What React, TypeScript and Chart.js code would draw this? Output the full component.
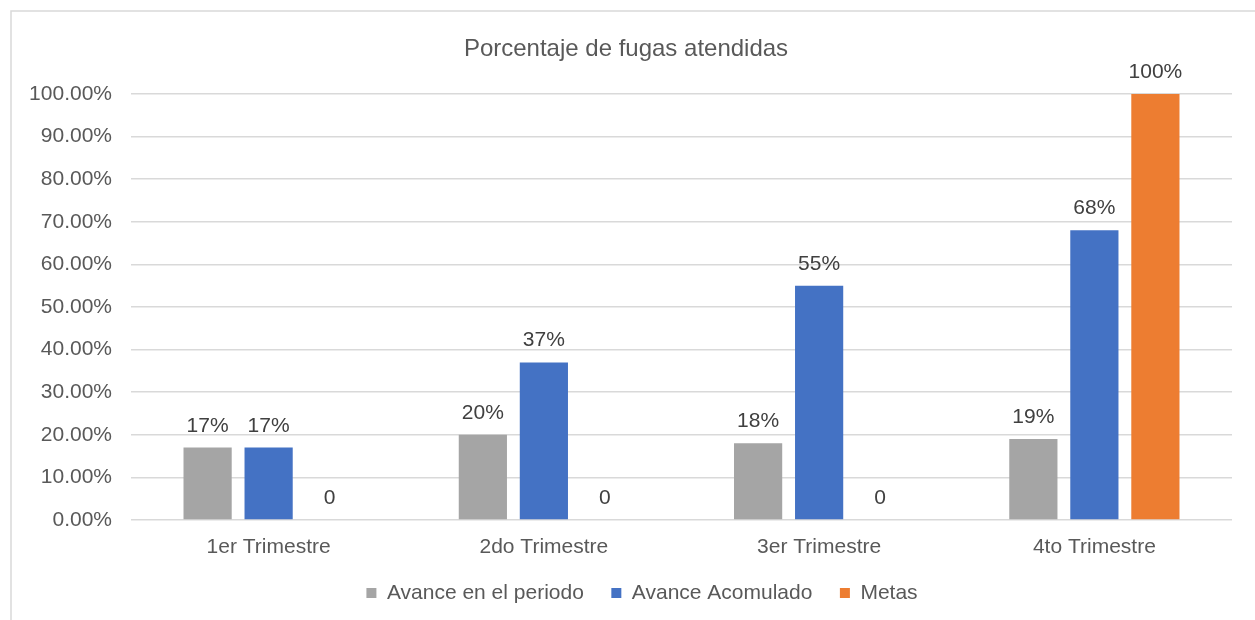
import React, { useEffect, useRef } from "react";
import { Chart, registerables } from "chart.js";

Chart.register(...registerables);

const categories = ["1er Trimestre", "2do Trimestre", "3er Trimestre", "4to Trimestre"];
const avancePeriodo = [0.17, 0.2, 0.18, 0.19];
const avanceAcumulado = [0.17, 0.37, 0.55, 0.68];
const metas = [0, 0, 0, 1];
const seriesNames = ["Avance en el periodo", "Avance Acomulado", "Metas"];
const chartTitle = "Porcentaje de fugas atendidas";

const FONT = "'Liberation Sans', Arial, sans-serif";

const frame = {
  id: "frame",
  beforeDraw(chart: any) {
    const ctx = chart.ctx;
    ctx.save();
    ctx.fillStyle = "#ffffff";
    ctx.fillRect(0, 0, chart.width, chart.height);
    ctx.strokeStyle = "#d9d9d9";
    ctx.lineWidth = 1.5;
    ctx.strokeRect(11, 11, 3000, 3000);
    ctx.restore();
  },
};

const shiftBoxes = {
  id: "shiftBoxes",
  afterLayout(chart: any) {
    if (chart.titleBlock) {
      chart.titleBlock.left += 10;
      chart.titleBlock.right += 10;
    }
    if (chart.legend) {
      chart.legend.left += 26;
      chart.legend.right += 26;
    }
  },
};

const dataLabels = {
  id: "dataLabels",
  afterDatasetsDraw(chart: any) {
    const ctx = chart.ctx;
    ctx.save();
    ctx.font = `21px ${FONT}`;
    ctx.fillStyle = "#404040";
    ctx.textAlign = "center";
    ctx.textBaseline = "alphabetic";
    chart.data.datasets.forEach((ds: any, i: number) => {
      const meta = chart.getDatasetMeta(i);
      meta.data.forEach((bar: any, j: number) => {
        const v = ds.data[j];
        const txt = v === 0 ? "0" : Math.round(v * 100) + "%";
        ctx.fillText(txt, bar.x, bar.y - 16);
      });
    });
    ctx.restore();
  },
};

export default function App() {
  const ref = useRef<HTMLCanvasElement>(null);
  useEffect(() => {
    if (!ref.current) return;
    const chart = new Chart(ref.current, {
      type: "bar",
      data: {
        labels: categories,
        datasets: [
          { label: seriesNames[0], data: avancePeriodo, backgroundColor: "#a5a5a5" },
          { label: seriesNames[1], data: avanceAcumulado, backgroundColor: "#4472c4" },
          { label: seriesNames[2], data: metas, backgroundColor: "#ed7d31" },
        ],
      },
      options: {
        animation: false,
        responsive: false,
        maintainAspectRatio: false,
        layout: { padding: { top: 10, right: 23, bottom: 6.5, left: 0 } },
        datasets: { bar: { categoryPercentage: 0.665, barPercentage: 0.79 } },
        plugins: {
          title: {
            display: true,
            text: chartTitle,
            color: "#595959",
            font: { family: FONT, size: 24, weight: "normal" },
            padding: { top: 24.6, bottom: 30.6 },
          },
          legend: {
            position: "bottom",
            labels: {
              boxWidth: 10,
              boxHeight: 10,
              padding: 27.5,
              color: "#595959",
              font: { family: FONT, size: 21 },
            },
          },
          tooltip: { enabled: false },
        },
        scales: {
          x: {
            grid: { display: false, drawTicks: false },
            border: { display: false },
            ticks: { color: "#595959", font: { family: FONT, size: 21 }, padding: 15 },
            afterFit: (s: any) => { s.height = 35; },
          },
          y: {
            min: 0,
            max: 1,
            grid: { color: "#d9d9d9", lineWidth: 1.5, drawTicks: false },
            border: { display: false },
            ticks: {
              stepSize: 0.1,
              color: "#595959",
              font: { family: FONT, size: 21 },
              padding: 19,
              callback: (v: any) => (Number(v) * 100).toFixed(2) + "%",
            },
            afterFit: (s: any) => { s.width = 131; },
          },
        },
      },
      plugins: [frame, shiftBoxes, dataLabels],
    });
    return () => chart.destroy();
  }, []);
  return (
    <div style={{ position: "fixed", left: 0, top: 0, width: 1255, height: 620 }}>
      <canvas ref={ref} width={1255} height={620} style={{ display: "block" }} />
    </div>
  );
}
